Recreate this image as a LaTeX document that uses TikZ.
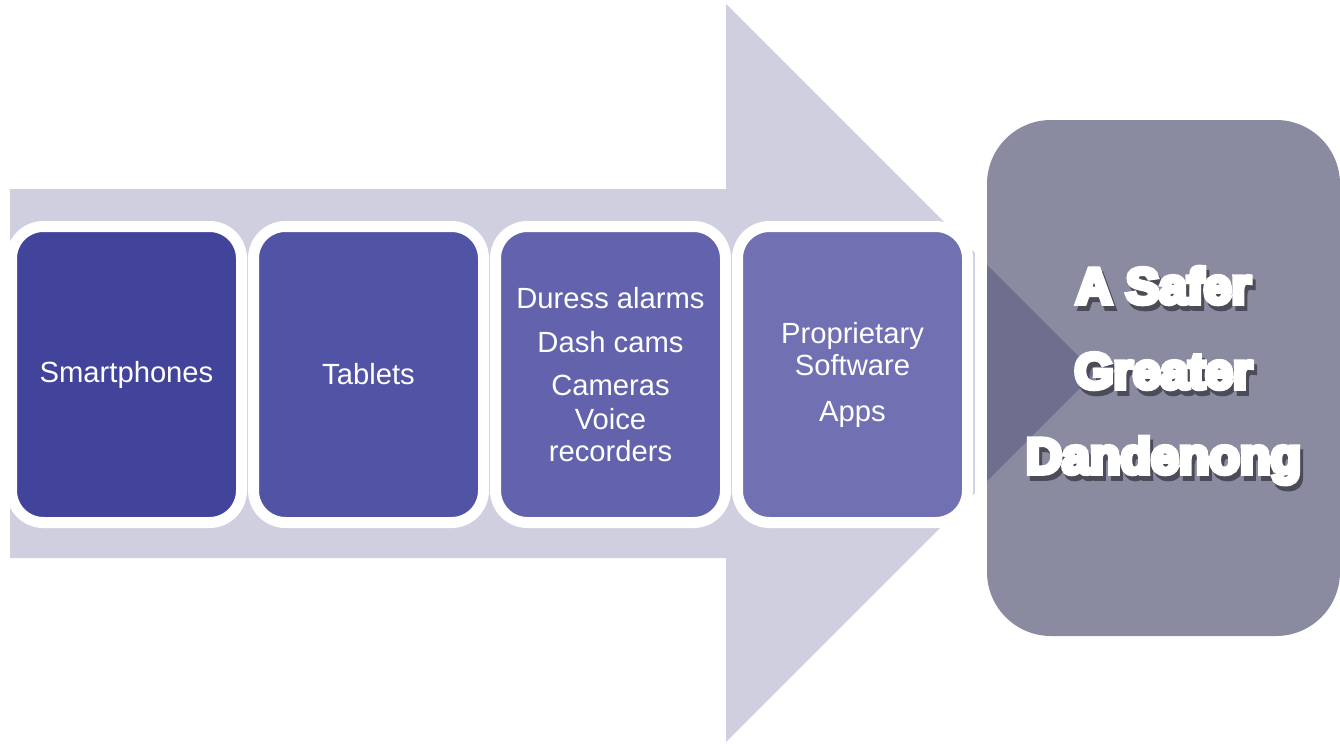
\documentclass[tikz,border=0pt]{standalone}
\usepackage{fontspec}
\setmainfont{Liberation Sans}
\newfontfamily\titlefont{Liberation Sans}[UprightFont=* Bold, FakeBold=10]
\usetikzlibrary{positioning}
\definecolor{arrowgray}{HTML}{CFCFE0}
\definecolor{boxa}{HTML}{42449C}
\definecolor{boxb}{HTML}{5153A4}
\definecolor{boxc}{HTML}{6363AD}
\definecolor{boxd}{HTML}{7070B3}
\definecolor{goalgray}{HTML}{8A8AA0}
\definecolor{goaldark}{HTML}{6E6E8E}
\colorlet{shadowgray}{goalgray!55!black}
% white letters with a dark copy set behind them
\newcommand{\shadowed}[1]{\rlap{\kern1.5pt\raisebox{-2.5pt}{\textcolor{shadowgray}{#1}}}#1}

\begin{document}
\begin{tikzpicture}[x=0.5pt, y=-0.5pt, node distance=6pt,
    item/.style={draw=white, line width=5.5pt, rounded corners=16pt, minimum width=115pt,
        minimum height=148pt, outer sep=0pt, inner sep=0pt, text=white, align=center,
        font=\fontsize{14.6}{16}\selectfont},
    goal/.style={fill=goalgray, rounded corners=32pt, minimum width=176.5pt,
        minimum height=258pt, outer sep=0pt, inner sep=0pt,
        preaction={draw=white, line width=12pt}},
    title/.style={text=white, align=center, font=\titlefont\fontsize{25}{42.5}\selectfont}]
        \useasboundingbox (0,0) rectangle (1340,744);
        % big arrow behind the boxes
        \fill[arrowgray] (10,189) -- (726,189) -- (726,4) -- (1095,373)
            -- (726,742) -- (726,558) -- (10,558) -- cycle;

        \node[item, fill=boxa] (phones) at (126.5,374.5) {Smartphones};
        \node[item, fill=boxb, right=of phones] (tablets) {Tablets};
        \node[item, fill=boxc, right=of tablets] (devices)
            {Duress alarms\\[6pt]Dash cams\\[5.5pt]Cameras\\[1pt]Voice\\recorders};
        \node[item, fill=boxd, right=of devices] (software)
            {Proprietary\\Software\\[7pt]Apps};

        \node[goal] (goal) at (1163.5,378) {};
        % arrow tip seen through the goal box
        \begin{scope}
            \clip[rounded corners=32pt] (goal.south west) rectangle (goal.north east);
            \fill[goaldark] (726,4) -- (1095,373) -- (726,742) -- cycle;
        \end{scope}

        \node[title] (goaltext) at (goal.center)
            {\shadowed{A Safer}\\\shadowed{Greater}\\\shadowed{Dandenong}};
    \end{tikzpicture}
\end{document}
